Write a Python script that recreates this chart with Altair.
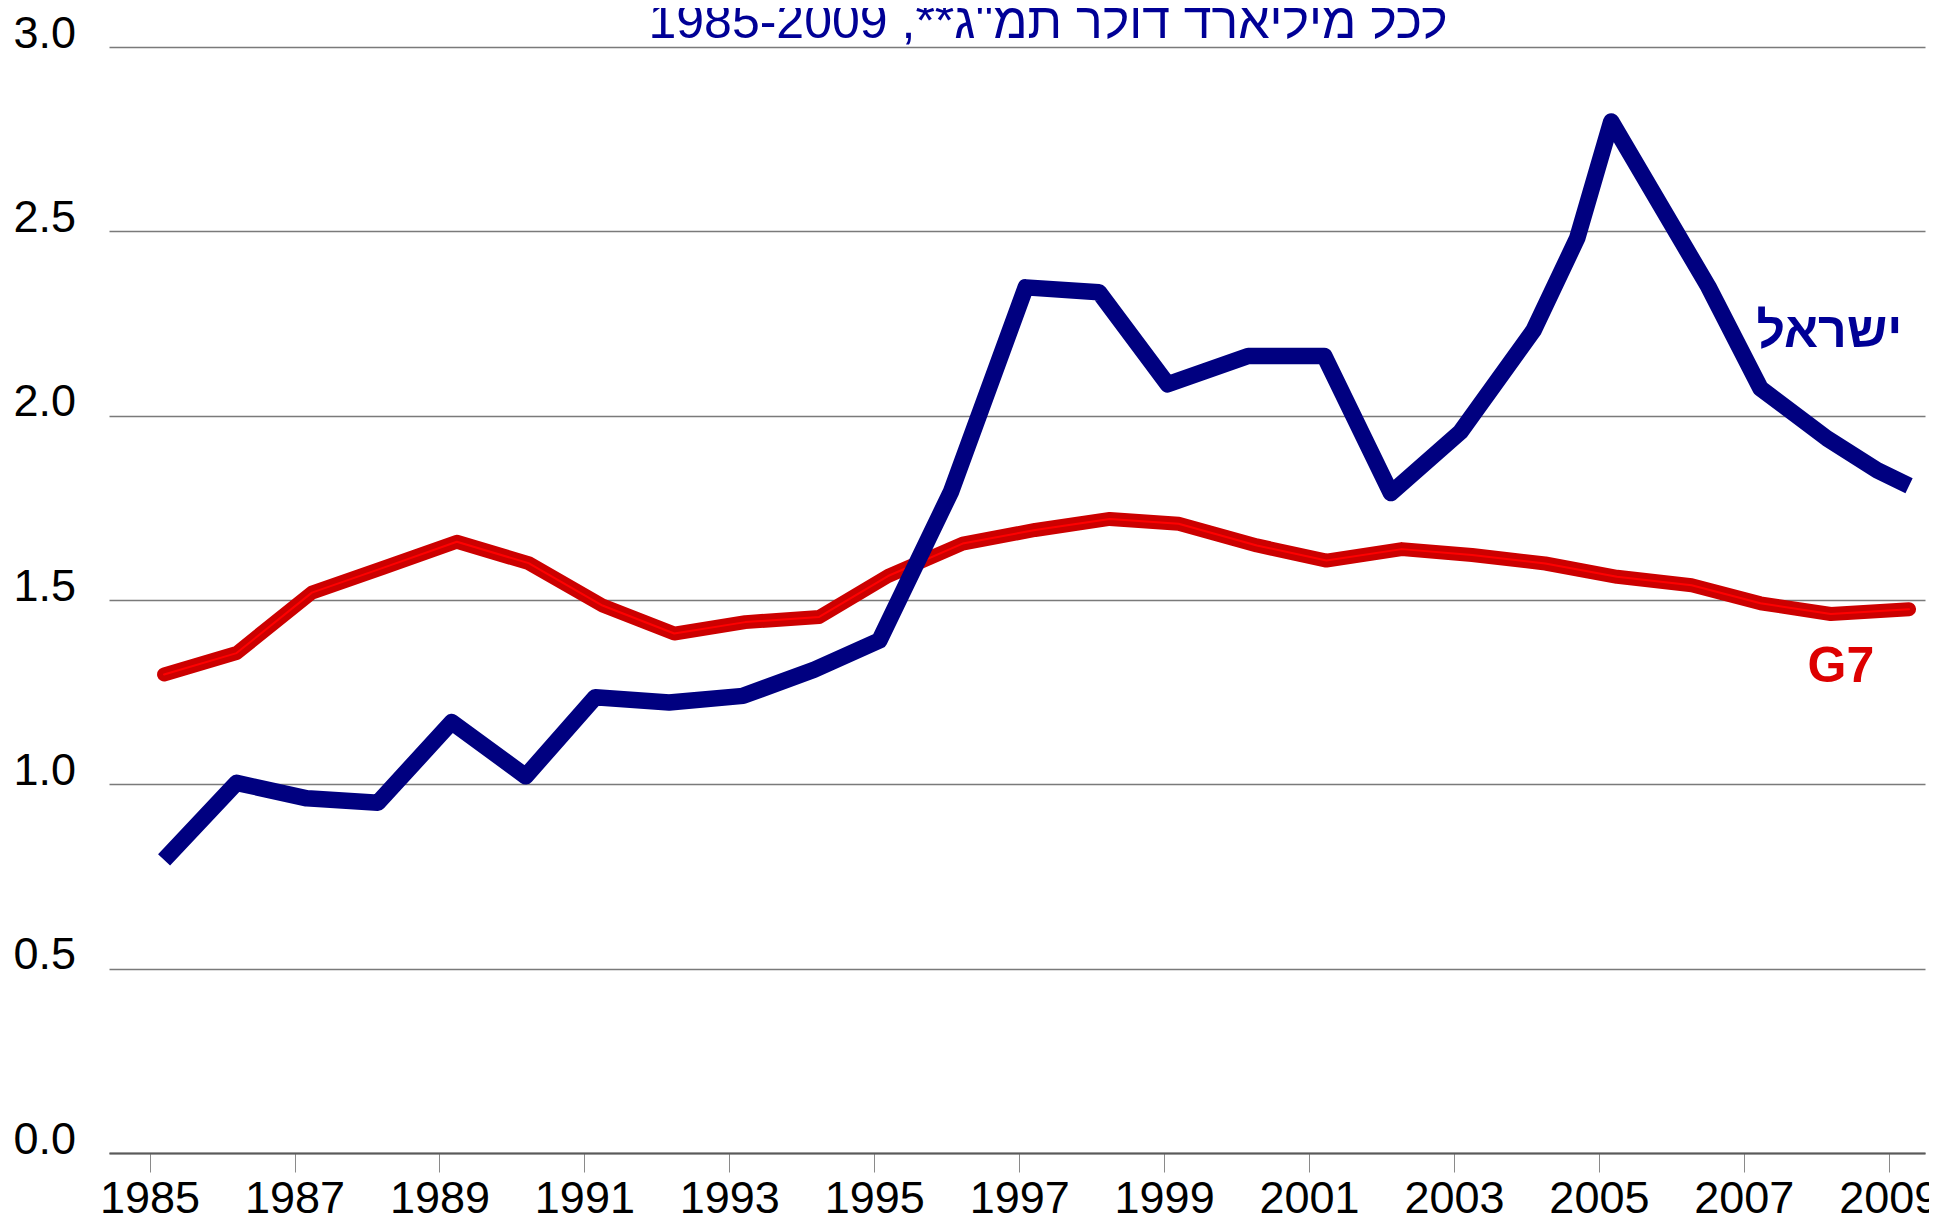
import altair as alt
import pandas as pd

# ---- data ----
isr_x = [1985.20, 1986.20, 1987.17, 1988.15, 1989.17, 1990.19, 1991.15, 1992.17,
         1993.19, 1994.17, 1995.07, 1996.06, 1997.09, 1998.10, 1999.05, 2000.16,
         2001.21, 2002.13, 2003.09, 2004.10, 2004.70, 2005.17, 2006.51, 2007.23,
         2008.15, 2008.84, 2009.28]
isr_y = [0.795, 1.004, 0.962, 0.950, 1.169, 1.022, 1.236, 1.222,
         1.240, 1.311, 1.390, 1.794, 2.348, 2.335, 2.085, 2.162,
         2.162, 1.790, 1.956, 2.232, 2.481, 2.798, 2.350, 2.074,
         1.938, 1.852, 1.810]

g7_x = [1985.20, 1986.20, 1987.24, 1988.22, 1989.24, 1990.23, 1991.25, 1992.24,
        1993.22, 1994.24, 1995.19, 1996.22, 1997.22, 1998.25, 1999.20, 2000.28,
        2001.24, 2002.28, 2003.25, 2004.26, 2005.25, 2006.28, 2007.23, 2008.20,
        2009.28]
g7_y = [1.298, 1.356, 1.520, 1.587, 1.658, 1.600, 1.485, 1.409,
        1.440, 1.454, 1.565, 1.653, 1.690, 1.720, 1.707, 1.648,
        1.607, 1.638, 1.622, 1.599, 1.563, 1.540, 1.491, 1.462,
        1.475]

x_ticks = [1985, 1987, 1989, 1991, 1993, 1995, 1997, 1999, 2001, 2003, 2005, 2007, 2009]
y_ticks = [0.0, 0.5, 1.0, 1.5, 2.0, 2.5, 3.0]

title_text = 'לכל מיליארד דולר תמ"ג**, 1985-2009'
label_isr = "ישראל"
label_g7 = "G7"
label_isr_pos = (2008.18, 2.186)
label_g7_pos = (2008.34, 1.277)

FONT = "Liberation Sans"

isr_df = pd.DataFrame({"year": isr_x, "value": isr_y})
g7_df = pd.DataFrame({"year": g7_x, "value": g7_y})
lab_isr_df = pd.DataFrame({"year": [label_isr_pos[0]], "value": [label_isr_pos[1]], "t": [label_isr]})
lab_g7_df = pd.DataFrame({"year": [label_g7_pos[0]], "value": [label_g7_pos[1]], "t": [label_g7]})
title_df = pd.DataFrame({"t": [title_text]})


def xe():
    return alt.X(
        "year:Q",
        scale=alt.Scale(domain=[1984.44, 2009.5], nice=False, zero=False),
        axis=alt.Axis(
            values=x_ticks, format="d", title=None, grid=False,
            labelFont=FONT, labelFontSize=45, labelColor="black",
            labelPadding=4, labelFlush=False, labelOverlap=False,
            ticks=True, tickSize=19, tickColor="#8a8a8a", tickWidth=1,
            domain=True, domainColor="#5a5a5a", domainWidth=2,
        ),
    )


def ye():
    return alt.Y(
        "value:Q",
        scale=alt.Scale(domain=[0, 3], nice=False, zero=True),
        axis=alt.Axis(
            values=y_ticks, format=".1f", title=None,
            grid=True, gridColor="#7a7a7a", gridWidth=1.3,
            domain=False, ticks=False, tickSize=0,
            labelFont=FONT, labelFontSize=45, labelColor="black",
            labelAlign="left", labelBaseline="alphabetic", labelPadding=96,
        ),
    )


g7_outer = alt.Chart(g7_df).mark_line(
    color="#CC0000", strokeWidth=14, strokeCap="round", strokeJoin="round"
).encode(x=xe(), y=ye())

g7_inner = alt.Chart(g7_df).mark_line(
    color="#FF0000", strokeWidth=2, strokeCap="round", strokeJoin="round"
).encode(x=xe(), y=ye())

isr_line = alt.Chart(isr_df).mark_line(
    color="#000080", strokeWidth=16.5, strokeCap="butt", strokeJoin="round"
).encode(x=xe(), y=ye())

isr_text = alt.Chart(lab_isr_df).mark_text(
    font=FONT, fontSize=50, fontWeight="bold", color="#000096",
    align="center", baseline="alphabetic"
).encode(x=xe(), y=ye(), text="t:N")

g7_text = alt.Chart(lab_g7_df).mark_text(
    font=FONT, fontSize=50, fontWeight="bold", color="#DD0000",
    align="center", baseline="alphabetic"
).encode(x=xe(), y=ye(), text="t:N")

title = alt.Chart(title_df).mark_text(
    font=FONT, fontSize=50, color="#000096", dir="rtl",
    align="center", baseline="alphabetic"
).encode(x=alt.value(939), y=alt.value(-9), text="t:N")

chart = alt.layer(g7_outer, g7_inner, isr_line, isr_text, g7_text, title).properties(
    width=1816,
    height=1106,
    autosize=alt.AutoSizeParams(type="none"),
    padding={"left": 101, "top": 39, "right": 4, "bottom": 69},
    background="white",
).configure_view(stroke=None)

chart.save("out.html", embed_options={"renderer": "svg", "actions": False})
